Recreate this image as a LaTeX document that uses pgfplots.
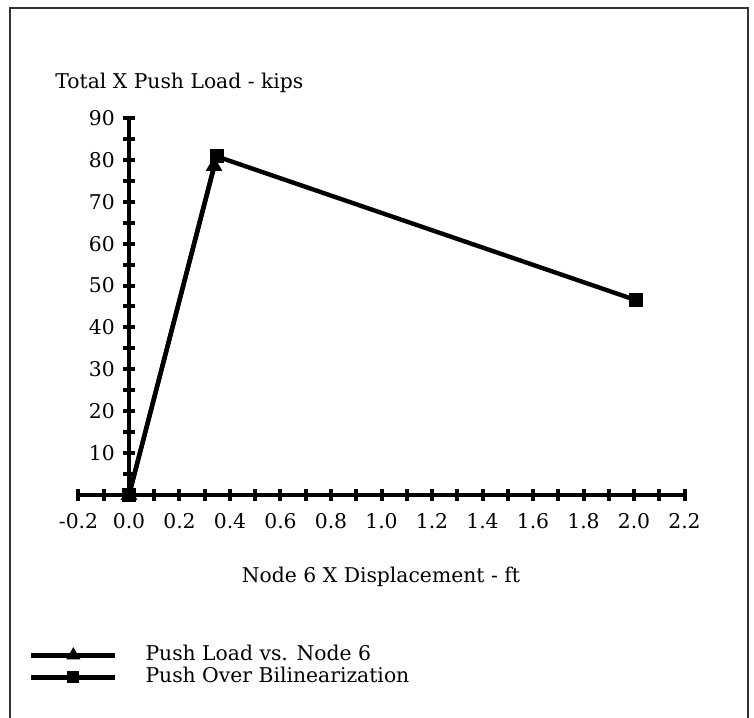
\documentclass[border=0pt]{standalone}
\usepackage{fontspec}
\setmainfont{DejaVu Serif}
\usepackage{pgfplots}
\pgfplotsset{compat=1.18}
\begin{document}
\fontsize{10.2}{12}\selectfont
\begin{tikzpicture}
\begin{axis}[
  at={(0,0)}, anchor=origin,
  scale only axis, x=126.25bp, y=2.095bp,
  xmin=-0.2, xmax=2.2, ymin=0, ymax=90,
  axis lines=middle,
  axis line style={line width=2bp,-},
  clip=false,
  xtick={-0.2,0,0.2,0.4,0.6,0.8,1.0,1.2,1.4,1.6,1.8,2.0,2.2},
  minor xtick={-0.1,0.1,0.3,0.5,0.7,0.9,1.1,1.3,1.5,1.7,1.9,2.1},
  ytick={10,20,30,40,50,60,70,80,90},
  minor ytick={0,5,15,25,35,45,55,65,75,85},
  hide obscured x ticks=false,
  hide obscured y ticks=false,
  tick style={line width=2bp, black},
  major tick length=6bp, minor tick length=6bp, tick align=center,
  xticklabel style={yshift=-2.5bp, /pgf/number format/.cd, fixed, fixed zerofill, precision=1},
  yticklabel style={xshift=-0.5bp},
  /pgf/number format/assume math mode=true,
  legend cell align=left,
  legend style={at={(-0.092,-0.387)}, anchor=north west, draw=none, fill=none,
    nodes={inner sep=0pt, text height=7.5bp, text depth=2.5bp}, row sep=1bp, column sep=14bp},
  legend image code/.code={
    \draw[mark repeat=2,mark phase=2,#1,mark size=1.9bp] plot coordinates {(0bp,0bp) (21bp,0bp) (42bp,0bp)};
  },
]
\addplot[black, line width=2.2bp, mark=triangle*, mark size=2.6bp] coordinates {
  (0,0) (0.337,78.5)
};
\addlegendentry{Push Load vs. Node 6}
\addplot[black, line width=2.2bp, mark=square*, mark size=2.4bp] coordinates {
  (0,0) (0.348,80.8) (2.008,46.5)
};
\addlegendentry{Push Over Bilinearization}
\end{axis}
\node[anchor=west, inner sep=0pt] at (-37bp,206bp) {Total X Push Load - kips};
\node[inner sep=0pt] at (126bp,-41bp) {Node 6 X Displacement - ft};
\draw[line width=1bp, black!80] (-59.5bp,-111.5bp) -- (-59.5bp,243.5bp) -- (309.5bp,243.5bp) -- (309.5bp,-111.5bp);
\pgfresetboundingbox
\useasboundingbox (-64.5bp,-111.5bp) rectangle (312.5bp,247.5bp);
\end{tikzpicture}
\end{document}
